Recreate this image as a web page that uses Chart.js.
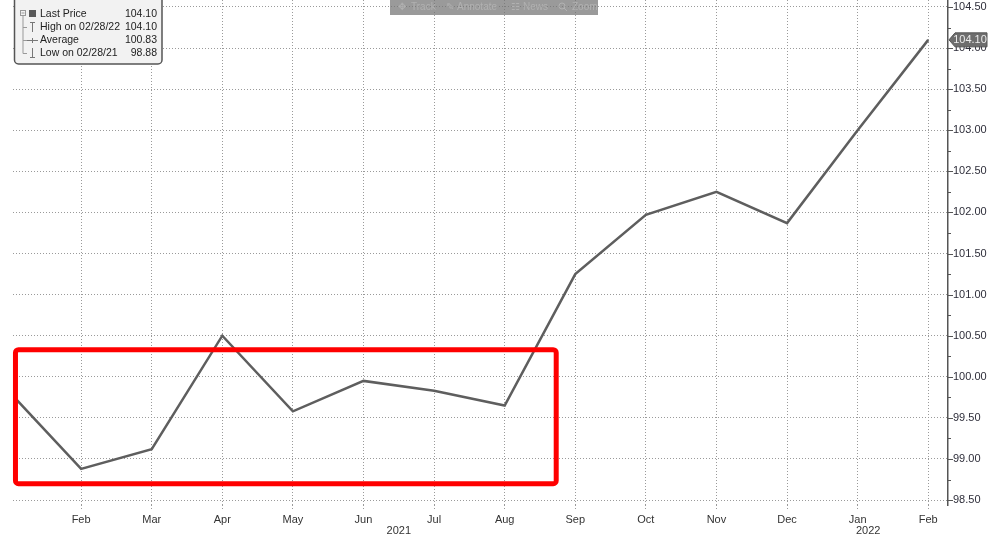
<!DOCTYPE html>
<html>
<head>
<meta charset="utf-8">
<script src="https://cdn.jsdelivr.net/npm/chart.js@4/dist/chart.umd.min.js"></script>
<style>
    body { margin: 0; background: #fff; }
    #wrap { width: 989px; height: 537px; }
</style>
</head>
<body>
<div id="wrap"><canvas id="line-chart" width="989" height="537"></canvas></div>
<script>
// ------------------------------------------------------
// @Data
// ------------------------------------------------------

const months     = ['Jan', 'Feb', 'Mar', 'Apr', 'May', 'Jun', 'Jul', 'Aug', 'Sep', 'Oct', 'Nov', 'Dec', 'Jan', 'Feb'];
const lastPrice  = [99.80, 98.88, 99.12, 100.50, 99.58, 99.95, 99.83, 99.65, 101.25, 101.97, 102.25, 101.87, 103.00, 104.10];
const yTicks     = [98.5, 99.0, 99.5, 100.0, 100.5, 101.0, 101.5, 102.0, 102.5, 103.0, 103.5, 104.0, 104.5];
const years      = ['2021', '2022'];
const yearAt     = [5.5, 12.15];
const legendRows = [
    ['Last Price', '104.10'],
    ['High on 02/28/22', '104.10'],
    ['Average', '100.83'],
    ['Low on 02/28/21', '98.88'],
];
// highlighted window (index from/to, value top/bottom)
const boxX = [0.07, 7.73];
const boxY = [100.33, 98.70];

const FONT = '"Liberation Sans", Arial, sans-serif';

(function () {
    const canvas = document.getElementById('line-chart');
    if (!canvas) return;
    const ctx = canvas.getContext('2d');

    const extras = {
        id: 'extras',
        afterDatasetsDraw(chart) {
            const { ctx, scales: { x, y } } = chart;
            const x0 = x.getPixelForValue(boxX[0]);
            const x1 = x.getPixelForValue(boxX[1]);
            const y0 = y.getPixelForValue(boxY[0]);
            const y1 = y.getPixelForValue(boxY[1]);
            ctx.save();
            ctx.strokeStyle = '#ff0000';
            ctx.lineWidth = 5;
            ctx.lineJoin = 'round';
            ctx.beginPath();
            ctx.roundRect(x0, y0, x1 - x0, y1 - y0, 3);
            ctx.stroke();
            ctx.restore();
        },
        afterDraw(chart) {
            const { ctx, scales: { x, y } } = chart;
            ctx.save();

            // y axis tick marks (major + minor)
            ctx.strokeStyle = '#555';
            ctx.lineWidth = 1;
            for (let v = 98.5; v <= 104.51; v += 0.25) {
                const py = Math.round(y.getPixelForValue(v)) + 0.5;
                const major = Math.abs(v * 2 - Math.round(v * 2)) < 0.01;
                ctx.beginPath();
                ctx.moveTo(y.left, py);
                ctx.lineTo(y.left + (major ? 5 : 3), py);
                ctx.stroke();
            }

            // year labels
            ctx.fillStyle = '#333';
            ctx.font = '11px ' + FONT;
            ctx.textAlign = 'center';
            ctx.textBaseline = 'middle';
            years.forEach((yr, i) => ctx.fillText(yr, x.getPixelForValue(yearAt[i]), 531));

            // last price tag
            const last = lastPrice[lastPrice.length - 1];
            const ty = y.getPixelForValue(last);
            ctx.fillStyle = '#6e6e6e';
            ctx.strokeStyle = '#555';
            ctx.beginPath();
            ctx.moveTo(y.left + 1, ty);
            ctx.lineTo(y.left + 7, ty - 7);
            ctx.lineTo(987, ty - 7);
            ctx.lineTo(987, ty + 7);
            ctx.lineTo(y.left + 7, ty + 7);
            ctx.closePath();
            ctx.fill();
            ctx.stroke();
            ctx.fillStyle = '#ececec';
            ctx.fillText(last.toFixed(2), 970, ty + 0.5);

            // toolbar (semi transparent)
            ctx.fillStyle = 'rgba(115,115,115,0.72)';
            ctx.fillRect(390, -1, 208, 16);
            ctx.fillStyle = 'rgba(180,180,180,0.9)';
            ctx.font = '10px ' + FONT;
            ctx.textAlign = 'left';
            [['✥', 398, 'Track', 411], ['✎', 446, 'Annotate', 457], ['☷', 511, 'News', 523], ['', 0, 'Zoom', 572]]
                .forEach(([ic, ix, t, tx]) => {
                    if (ic) ctx.fillText(ic, ix, 7);
                    ctx.fillText(t, tx, 7);
                });
            ctx.strokeStyle = 'rgba(180,180,180,0.9)';
            ctx.beginPath();
            ctx.arc(562, 6, 3, 0, Math.PI * 2);
            ctx.moveTo(564, 8);
            ctx.lineTo(567, 11);
            ctx.stroke();

            // legend box
            ctx.fillStyle = '#f2f2f2';
            ctx.strokeStyle = '#555';
            ctx.lineWidth = 1.5;
            ctx.beginPath();
            ctx.roundRect(14.5, -5, 147.5, 69, 4);
            ctx.fill();
            ctx.stroke();

            ctx.lineWidth = 1;
            ctx.strokeStyle = '#999';
            ctx.strokeRect(20.5, 10.5, 5, 5);
            ctx.beginPath();
            ctx.moveTo(21.5, 13); ctx.lineTo(24.5, 13);
            ctx.moveTo(23, 16); ctx.lineTo(23, 53.5);
            [27, 40, 53].forEach((ry) => { ctx.moveTo(23, ry + 0.5); ctx.lineTo(27, ry + 0.5); });
            ctx.stroke();

            ctx.fillStyle = '#5a5a5a';
            ctx.fillRect(29, 10, 7, 7);
            ctx.strokeStyle = '#777';
            ctx.beginPath();
            ctx.moveTo(30, 22.5); ctx.lineTo(35, 22.5);
            ctx.moveTo(32.5, 22.5); ctx.lineTo(32.5, 32);
            ctx.moveTo(27, 40.5); ctx.lineTo(38, 40.5);
            ctx.moveTo(32.5, 38); ctx.lineTo(32.5, 43);
            ctx.moveTo(32.5, 48); ctx.lineTo(32.5, 57.5);
            ctx.moveTo(30, 57.5); ctx.lineTo(35, 57.5);
            ctx.stroke();

            ctx.fillStyle = '#222';
            ctx.font = '10.5px ' + FONT;
            legendRows.forEach(([name, val], i) => {
                const ry = 14 + i * 13;
                ctx.textAlign = 'left';
                ctx.fillText(name, 40, ry);
                ctx.textAlign = 'right';
                ctx.fillText(val, 157, ry);
            });

            ctx.restore();
        },
    };

    new Chart(ctx, {
        type: 'line',
        data: {
            datasets: [{
                label       : 'Last Price',
                data        : lastPrice.map((v, i) => ({ x: i, y: v })),
                borderColor : '#5e5e5e',
                borderWidth : 2.5,
                pointRadius : 0,
                tension     : 0,
            }],
        },
        plugins: [extras],
        options: {
            responsive: false,
            animation: false,
            devicePixelRatio: 1,
            layout: { padding: { left: 13, top: 0, right: 0, bottom: 0 } },
            plugins: {
                legend  : { display: false },
                tooltip : { enabled: false },
            },
            scales: {
                x: {
                    type: 'linear',
                    min: 0.035,
                    max: 13.28,
                    afterBuildTicks: (scale) => {
                        scale.ticks = months.map((m, i) => ({ value: i })).filter((t) => t.value >= 1);
                    },
                    afterFit: (scale) => {
                        scale.height = 32;
                        scale.paddingLeft = 0;
                        scale.paddingRight = 0;
                    },
                    grid: {
                        color: '#9a9a9a',
                        lineWidth: 1,
                        tickLength: 5,
                        tickBorderDash: [1, 2],
                    },
                    border: { display: false, dash: [1, 2] },
                    ticks: {
                        autoSkip: false,
                        maxRotation: 0,
                        padding: 3,
                        color: '#333',
                        font: { size: 11, family: FONT },
                        callback: (v) => months[v],
                    },
                },
                y: {
                    position: 'right',
                    min: 98.44,
                    max: 104.585,
                    afterBuildTicks: (scale) => {
                        scale.ticks = yTicks.map((v) => ({ value: v }));
                    },
                    afterFit: (scale) => {
                        scale.width = 41;
                        scale.paddingTop = 0;
                        scale.paddingBottom = 0;
                    },
                    grid: {
                        color: '#9a9a9a',
                        lineWidth: 1,
                        drawTicks: false,
                    },
                    border: { display: true, color: '#555', width: 1.5, dash: [1, 2] },
                    ticks: {
                        padding: 5,
                        color: '#2e2e3a',
                        font: { size: 11, family: FONT },
                        callback: (v) => Number(v).toFixed(2),
                    },
                },
            },
        },
    });
}());
</script>
</body>
</html>
